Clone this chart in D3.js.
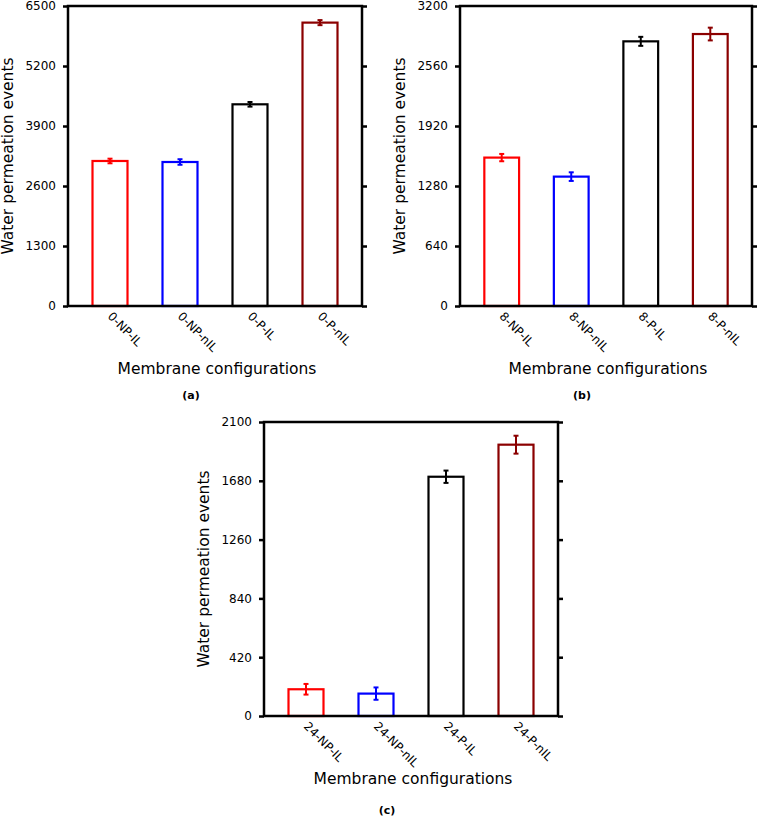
<!DOCTYPE html>
<html>
<head>
<meta charset="utf-8">
<script src="https://cdn.jsdelivr.net/npm/d3@7"></script>
<style>
  body { margin: 0; background: #fff; }
  text { font-family: "DejaVu Sans", sans-serif; fill: #000; }
</style>
</head>
<body>
<script>
// data
let labelsA = ["0-NP-IL", "0-NP-nIL", "0-P-IL", "0-P-nIL"];
let valuesA = [3142, 3120, 4370, 6140];
let errorsA = [50, 60, 50, 55];
let ticksA = [0, 1300, 2600, 3900, 5200, 6500];

let labelsB = ["8-NP-IL", "8-NP-nIL", "8-P-IL", "8-P-nIL"];
let valuesB = [1583, 1380, 2823, 2901];
let errorsB = [39, 46, 48, 68];
let ticksB = [0, 640, 1280, 1920, 2560, 3200];

let labelsC = ["24-NP-IL", "24-NP-nIL", "24-P-IL", "24-P-nIL"];
let valuesC = [191, 160, 1709, 1938];
let errorsC = [38, 44, 44, 64];
let ticksC = [0, 420, 840, 1260, 1680, 2100];

let barColors = ["#ff0000", "#0000ff", "#000000", "#8b0000"];

let svgWidth = 761;
let svgHeight = 821;

let svg = d3.select("body")
    .append("svg")
    .attr("width", svgWidth)
    .attr("height", svgHeight);

function drawPanel(labels, values, errors, ticks, box, caption) {
    let g = svg.append("g");

    let xScale = d3.scaleLinear()
        .domain([-0.6, labels.length - 0.4])
        .range([box.left, box.right]);

    let yScale = d3.scaleLinear()
        .domain([0, ticks[ticks.length - 1]])
        .range([box.bottom, box.top]);

    let barW = xScale(0.5) - xScale(0);

    // bars
    g.selectAll("rect.bar")
        .data(values)
        .enter()
        .append("rect")
        .attr("class", "bar")
        .attr("x", (d, i) => xScale(i) - barW / 2)
        .attr("y", d => yScale(d))
        .attr("width", barW)
        .attr("height", d => yScale(0) - yScale(d))
        .attr("fill", "none")
        .attr("stroke", (d, i) => barColors[i])
        .attr("stroke-width", 2.2);

    // error bars
    let eb = g.selectAll("g.err")
        .data(values)
        .enter()
        .append("g")
        .attr("class", "err")
        .attr("stroke", (d, i) => barColors[i])
        .attr("stroke-width", 2);

    eb.append("line")
        .attr("x1", (d, i) => xScale(i))
        .attr("x2", (d, i) => xScale(i))
        .attr("y1", (d, i) => yScale(d - errors[i]))
        .attr("y2", (d, i) => yScale(d + errors[i]));
    eb.append("line")
        .attr("x1", (d, i) => xScale(i) - 2.5)
        .attr("x2", (d, i) => xScale(i) + 2.5)
        .attr("y1", (d, i) => yScale(d + errors[i]))
        .attr("y2", (d, i) => yScale(d + errors[i]));
    eb.append("line")
        .attr("x1", (d, i) => xScale(i) - 2.5)
        .attr("x2", (d, i) => xScale(i) + 2.5)
        .attr("y1", (d, i) => yScale(d - errors[i]))
        .attr("y2", (d, i) => yScale(d - errors[i]));

    // left axis with labels
    let leftAxis = d3.axisLeft(yScale)
        .tickValues(ticks)
        .tickSize(5)
        .tickPadding(7)
        .tickFormat(d3.format("d"));
    let gl = g.append("g")
        .attr("transform", `translate(${box.left}, 0)`)
        .call(leftAxis);
    gl.select(".domain").remove();
    gl.selectAll(".tick line").attr("stroke", "#000").attr("stroke-width", 2.5);
    gl.selectAll(".tick text")
        .style("font-family", "DejaVu Sans")
        .style("font-size", "12px")
        .attr("fill", "#000");

    // right axis ticks only
    let rightAxis = d3.axisRight(yScale)
        .tickValues(ticks)
        .tickSize(5)
        .tickFormat("");
    let gr = g.append("g")
        .attr("transform", `translate(${box.right}, 0)`)
        .call(rightAxis);
    gr.select(".domain").remove();
    gr.selectAll(".tick line").attr("stroke", "#000").attr("stroke-width", 2.5);

    // frame
    g.append("rect")
        .attr("x", box.left)
        .attr("y", box.top)
        .attr("width", box.right - box.left)
        .attr("height", box.bottom - box.top)
        .attr("fill", "none")
        .attr("stroke", "#000")
        .attr("stroke-width", 2.5);

    // rotated category labels
    g.selectAll("text.cat")
        .data(labels)
        .enter()
        .append("text")
        .attr("class", "cat")
        .attr("transform", (d, i) => `translate(${xScale(i) - 3}, ${box.bottom + 11}) rotate(45)`)
        .style("font-size", "12px")
        .text(d => d);

    // axis titles
    g.append("text")
        .attr("x", (box.left + box.right) / 2 + 2)
        .attr("y", box.bottom + 68)
        .attr("text-anchor", "middle")
        .style("font-size", "15.5px")
        .text("Membrane configurations");

    g.append("text")
        .attr("transform", `translate(${box.left - 55}, ${(box.top + box.bottom) / 2}) rotate(-90)`)
        .attr("text-anchor", "middle")
        .style("font-size", "15.5px")
        .text("Water permeation events");

    g.append("text")
        .attr("x", caption.x)
        .attr("y", caption.y)
        .attr("text-anchor", "middle")
        .style("font-size", "11px")
        .style("font-weight", "bold")
        .text(caption.text);
}

drawPanel(labelsA, valuesA, errorsA, ticksA,
    {left: 68, right: 362, top: 6, bottom: 306}, {x: 191, y: 399, text: "(a)"});
drawPanel(labelsB, valuesB, errorsB, ticksB,
    {left: 460, right: 752, top: 6, bottom: 306}, {x: 582, y: 399, text: "(b)"});
drawPanel(labelsC, valuesC, errorsC, ticksC,
    {left: 264, right: 558, top: 422, bottom: 716}, {x: 387, y: 814, text: "(c)"});
</script>
</body>
</html>
